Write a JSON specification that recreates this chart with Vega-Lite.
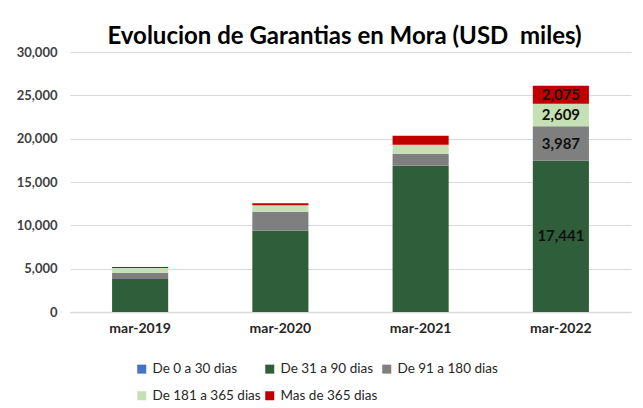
{
  "$schema": "https://vega.github.io/schema/vega-lite/v6.json",
  "autosize": {"type": "none"},
  "width": 561,
  "height": 260,
  "padding": {"left": 70, "top": 52, "right": 12, "bottom": 96},
  "background": "white",
  "title": {
    "text": "Evolucion de Garantias en Mora (USD\u00a0 miles)",
    "font": "Lato",
    "fontSize": 24,
    "fontWeight": "bold",
    "color": "#000000",
    "anchor": "middle",
    "offset": -3,
    "dx": -6
  },
  "config": {
    "font": "Lato",
    "view": {"stroke": null},
    "axis": {"labelFont": "Lato"}
  },
  "data": {
    "values": [
      {"month": "mar-2019", "series": "De 0 a 30 dias", "ord": 0, "usd": 0},
      {"month": "mar-2019", "series": "De 31 a 90 dias", "ord": 1, "usd": 3810},
      {"month": "mar-2019", "series": "De 91 a 180 dias", "ord": 2, "usd": 730},
      {"month": "mar-2019", "series": "De 181 a 365 dias", "ord": 3, "usd": 540},
      {"month": "mar-2019", "series": "Mas de 365 dias", "ord": 4, "usd": 120},
      {"month": "mar-2020", "series": "De 0 a 30 dias", "ord": 0, "usd": 0},
      {"month": "mar-2020", "series": "De 31 a 90 dias", "ord": 1, "usd": 9380},
      {"month": "mar-2020", "series": "De 91 a 180 dias", "ord": 2, "usd": 2190},
      {"month": "mar-2020", "series": "De 181 a 365 dias", "ord": 3, "usd": 740},
      {"month": "mar-2020", "series": "Mas de 365 dias", "ord": 4, "usd": 230},
      {"month": "mar-2021", "series": "De 0 a 30 dias", "ord": 0, "usd": 0},
      {"month": "mar-2021", "series": "De 31 a 90 dias", "ord": 1, "usd": 16880},
      {"month": "mar-2021", "series": "De 91 a 180 dias", "ord": 2, "usd": 1380},
      {"month": "mar-2021", "series": "De 181 a 365 dias", "ord": 3, "usd": 1040},
      {"month": "mar-2021", "series": "Mas de 365 dias", "ord": 4, "usd": 1040},
      {"month": "mar-2022", "series": "De 0 a 30 dias", "ord": 0, "usd": 0},
      {"month": "mar-2022", "series": "De 31 a 90 dias", "ord": 1, "usd": 17441},
      {"month": "mar-2022", "series": "De 91 a 180 dias", "ord": 2, "usd": 3987},
      {"month": "mar-2022", "series": "De 181 a 365 dias", "ord": 3, "usd": 2609},
      {"month": "mar-2022", "series": "Mas de 365 dias", "ord": 4, "usd": 2075}
    ]
  },
  "encoding": {
    "x": {
      "field": "month",
      "type": "nominal",
      "title": null,
      "sort": null,
      "scale": {"paddingInner": 0.6, "paddingOuter": 0.3},
      "axis": {
        "labelAngle": 0,
        "labelFontSize": 14,
        "labelFontWeight": "bold",
        "labelColor": "#262626",
        "labelPadding": 9,
        "ticks": false,
        "domain": true,
        "domainColor": "#D9D9D9",
        "domainWidth": 1.5
      }
    }
  },
  "layer": [
    {
      "mark": {"type": "bar"},
      "encoding": {
        "y": {
          "field": "usd",
          "type": "quantitative",
          "stack": "zero",
          "title": null,
          "scale": {"domain": [0, 30000]},
          "axis": {
            "values": [0, 5000, 10000, 15000, 20000, 25000, 30000],
            "format": ",d",
            "labelFontSize": 13,
            "labelFontWeight": "bold",
            "labelColor": "#404040",
            "labelPadding": 13,
            "ticks": false,
            "domain": false,
            "gridColor": "#D9D9D9",
            "gridWidth": 1.2
          }
        },
        "color": {
          "field": "series",
          "type": "nominal",
          "sort": ["De 0 a 30 dias", "De 31 a 90 dias", "De 91 a 180 dias", "De 181 a 365 dias", "Mas de 365 dias"],
          "scale": {
            "domain": ["De 0 a 30 dias", "De 31 a 90 dias", "De 91 a 180 dias", "De 181 a 365 dias", "Mas de 365 dias"],
            "range": ["#4472C4", "#2F5E3B", "#7F7F7F", "#C5E0B4", "#C00000"]
          },
          "legend": {
            "title": null,
            "orient": "none",
            "direction": "horizontal",
            "legendX": 65,
            "legendY": 310,
            "columns": 3,
            "symbolType": "square",
            "symbolSize": 81,
            "symbolStrokeWidth": 0,
            "labelFontSize": 13.5,
            "labelColor": "#262626",
            "labelFont": "Lato",
            "columnPadding": 2,
            "rowPadding": 12,
            "labelOffset": 4
          }
        },
        "order": {"field": "ord", "type": "quantitative", "sort": "ascending"}
      }
    },
    {
      "transform": [
        {"filter": {"field": "month", "equal": "mar-2022"}},
        {"filter": {"field": "usd", "gt": 0}},
        {"stack": "usd", "groupby": ["month"], "sort": [{"field": "ord", "order": "ascending"}], "as": ["lo", "hi"]},
        {"fold": ["lo", "hi"], "as": ["edge", "pos"]},
        {"aggregate": [{"op": "mean", "field": "pos", "as": "mid"}, {"op": "max", "field": "usd", "as": "val"}], "groupby": ["month", "series"]}
      ],
      "mark": {"type": "text", "fontSize": 15, "fontWeight": "bold", "color": "#111111", "baseline": "middle", "font": "Lato"},
      "encoding": {
        "y": {"field": "mid", "type": "quantitative"},
        "text": {"field": "val", "type": "quantitative", "format": ",d"}
      }
    }
  ]
}
